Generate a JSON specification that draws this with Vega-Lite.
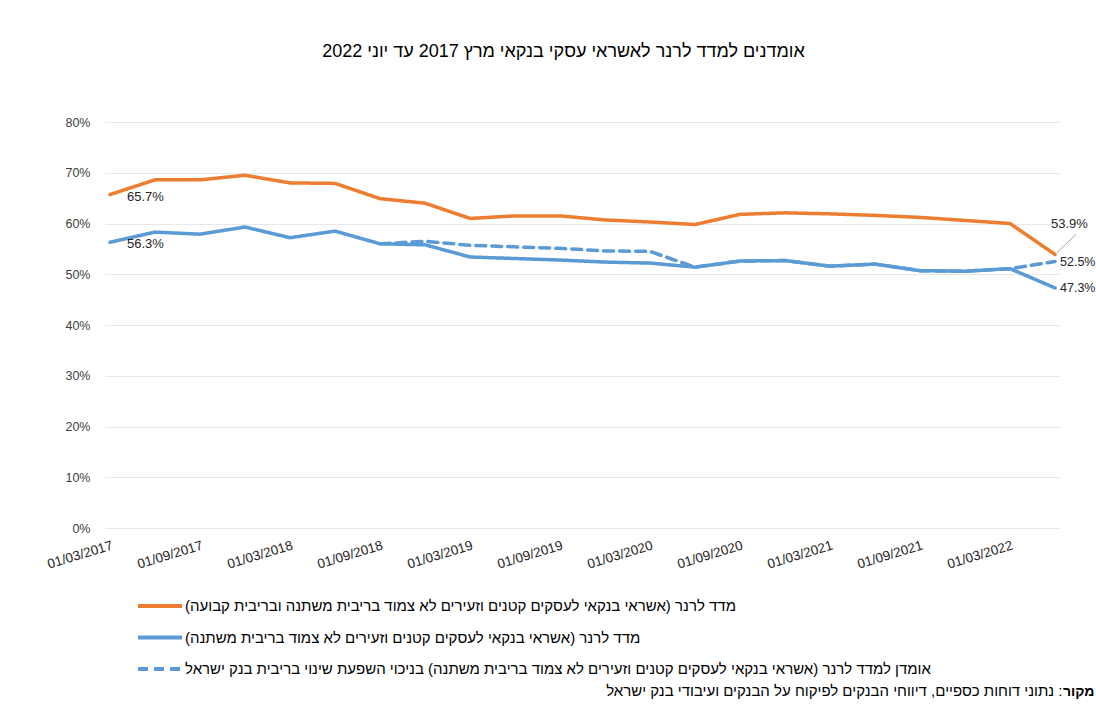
{
  "$schema": "https://vega.github.io/schema/vega-lite/v6.json",
  "width": 955,
  "height": 406,
  "autosize": {"type": "none"},
  "padding": {"left": 105, "top": 122, "right": 36, "bottom": 181},
  "background": "white",
  "title": {
    "text": "אומדנים למדד לרנר לאשראי עסקי בנקאי  מרץ 2017 עד יוני 2022",
    "fontSize": 18,
    "fontWeight": "normal",
    "color": "#000000",
    "anchor": "middle",
    "offset": 55,
    "dx": -19
  },
  "config": {
    "font": "Liberation Sans, DejaVu Sans",
    "view": {"stroke": null}
  },
  "datasets": {
    "main": [
      {"date": "01/03/2017", "series": "orange", "value": 0.657},
      {"date": "01/06/2017", "series": "orange", "value": 0.686},
      {"date": "01/09/2017", "series": "orange", "value": 0.686},
      {"date": "01/12/2017", "series": "orange", "value": 0.695},
      {"date": "01/03/2018", "series": "orange", "value": 0.680},
      {"date": "01/06/2018", "series": "orange", "value": 0.679},
      {"date": "01/09/2018", "series": "orange", "value": 0.649},
      {"date": "01/12/2018", "series": "orange", "value": 0.640},
      {"date": "01/03/2019", "series": "orange", "value": 0.610},
      {"date": "01/06/2019", "series": "orange", "value": 0.615},
      {"date": "01/09/2019", "series": "orange", "value": 0.615},
      {"date": "01/12/2019", "series": "orange", "value": 0.607},
      {"date": "01/03/2020", "series": "orange", "value": 0.603},
      {"date": "01/06/2020", "series": "orange", "value": 0.598},
      {"date": "01/09/2020", "series": "orange", "value": 0.618},
      {"date": "01/12/2020", "series": "orange", "value": 0.621},
      {"date": "01/03/2021", "series": "orange", "value": 0.619},
      {"date": "01/06/2021", "series": "orange", "value": 0.616},
      {"date": "01/09/2021", "series": "orange", "value": 0.612},
      {"date": "01/12/2021", "series": "orange", "value": 0.606},
      {"date": "01/03/2022", "series": "orange", "value": 0.600},
      {"date": "01/06/2022", "series": "orange", "value": 0.539},
      {"date": "01/03/2017", "series": "blue", "value": 0.563},
      {"date": "01/06/2017", "series": "blue", "value": 0.583},
      {"date": "01/09/2017", "series": "blue", "value": 0.579},
      {"date": "01/12/2017", "series": "blue", "value": 0.593},
      {"date": "01/03/2018", "series": "blue", "value": 0.572},
      {"date": "01/06/2018", "series": "blue", "value": 0.585},
      {"date": "01/09/2018", "series": "blue", "value": 0.560},
      {"date": "01/12/2018", "series": "blue", "value": 0.558},
      {"date": "01/03/2019", "series": "blue", "value": 0.534},
      {"date": "01/06/2019", "series": "blue", "value": 0.531},
      {"date": "01/09/2019", "series": "blue", "value": 0.528},
      {"date": "01/12/2019", "series": "blue", "value": 0.524},
      {"date": "01/03/2020", "series": "blue", "value": 0.522},
      {"date": "01/06/2020", "series": "blue", "value": 0.514},
      {"date": "01/09/2020", "series": "blue", "value": 0.526},
      {"date": "01/12/2020", "series": "blue", "value": 0.527},
      {"date": "01/03/2021", "series": "blue", "value": 0.516},
      {"date": "01/06/2021", "series": "blue", "value": 0.520},
      {"date": "01/09/2021", "series": "blue", "value": 0.507},
      {"date": "01/12/2021", "series": "blue", "value": 0.506},
      {"date": "01/03/2022", "series": "blue", "value": 0.511},
      {"date": "01/06/2022", "series": "blue", "value": 0.473},
      {"date": "01/09/2018", "series": "dashed", "value": 0.560},
      {"date": "01/12/2018", "series": "dashed", "value": 0.565},
      {"date": "01/03/2019", "series": "dashed", "value": 0.557},
      {"date": "01/06/2019", "series": "dashed", "value": 0.554},
      {"date": "01/09/2019", "series": "dashed", "value": 0.551},
      {"date": "01/12/2019", "series": "dashed", "value": 0.546},
      {"date": "01/03/2020", "series": "dashed", "value": 0.545},
      {"date": "01/06/2020", "series": "dashed", "value": 0.514},
      {"date": "01/09/2020", "series": "dashed", "value": 0.526},
      {"date": "01/12/2020", "series": "dashed", "value": 0.527},
      {"date": "01/03/2021", "series": "dashed", "value": 0.516},
      {"date": "01/06/2021", "series": "dashed", "value": 0.520},
      {"date": "01/09/2021", "series": "dashed", "value": 0.507},
      {"date": "01/12/2021", "series": "dashed", "value": 0.506},
      {"date": "01/03/2022", "series": "dashed", "value": 0.511},
      {"date": "01/06/2022", "series": "dashed", "value": 0.525}
    ]
  },
  "data": {"name": "main"},
  "encoding": {
    "x": {
      "field": "date",
      "type": "ordinal",
      "sort": null,
      "scale": {"type": "point", "padding": 0.111},
      "axis": {
        "title": "‏: נתוני דוחות כספיים, דיווחי הבנקים לפיקוח על הבנקים ועיבודי בנק ישראל",
        "titleX": 957,
        "titleY": 167,
        "titleAlign": "right",
        "titleBaseline": "alphabetic",
        "titleFontWeight": "normal",
        "titleFontSize": 15,
        "titleColor": "#000000",
        "values": ["01/03/2017", "01/09/2017", "01/03/2018", "01/09/2018", "01/03/2019", "01/09/2019", "01/03/2020", "01/09/2020", "01/03/2021", "01/09/2021", "01/03/2022"],
        "labelAngle": -17,
        "labelAlign": "right",
        "labelBaseline": "top",
        "labelPadding": 10,
        "labelFontSize": 13.5,
        "labelColor": "#262626",
        "ticks": false,
        "domain": false,
        "grid": false
      }
    },
    "y": {
      "field": "value",
      "type": "quantitative",
      "scale": {"domain": [0, 0.8], "nice": false, "zero": true},
      "axis": {
        "title": "מקור",
        "titleAngle": 0,
        "titleX": 989,
        "titleY": 573,
        "titleAlign": "right",
        "titleBaseline": "alphabetic",
        "titleFontWeight": "bold",
        "titleFontSize": 14,
        "titleColor": "#000000",
        "format": ".0%",
        "values": [0, 0.1, 0.2, 0.3, 0.4, 0.5, 0.6, 0.7, 0.8],
        "ticks": false,
        "domain": false,
        "labelPadding": 15,
        "labelFontSize": 12.5,
        "labelColor": "#404040",
        "gridColor": "#e8e8e8",
        "gridWidth": 1
      }
    }
  },
  "layer": [
    {
      "mark": {"type": "line", "strokeWidth": 3.5, "strokeCap": "round", "strokeJoin": "round"},
      "encoding": {
        "color": {
          "field": "series",
          "type": "nominal",
          "scale": {"domain": ["orange", "blue", "dashed"], "range": ["#ED7D31", "#5B9BD5", "#5B9BD5"]},
          "legend": {
            "title": null,
            "orient": "none",
            "legendX": 31,
            "legendY": 471,
            "direction": "vertical",
            "symbolType": "M-2,0H2",
            "symbolSize": 484,
            "symbolOffset": 11,
            "symbolStrokeWidth": 4,
            "labelOffset": 12,
            "rowPadding": 10.5,
            "labelFontSize": 15,
            "labelColor": "#000000",
            "labelLimit": 900,
            "labelExpr": "datum.value == 'orange' ? 'מדד לרנר (אשראי בנקאי לעסקים קטנים וזעירים לא צמוד בריבית משתנה ובריבית קבועה)‏' : datum.value == 'blue' ? 'מדד לרנר (אשראי בנקאי לעסקים קטנים וזעירים  לא צמוד בריבית משתנה)‏' : 'אומדן למדד לרנר (אשראי בנקאי לעסקים קטנים וזעירים לא צמוד בריבית משתנה) בניכוי השפעת שינוי בריבית בנק ישראל'"
          }
        },
        "strokeDash": {
          "field": "series",
          "type": "nominal",
          "scale": {"domain": ["orange", "blue", "dashed"], "range": [[1, 0], [1, 0], [10, 6]]},
          "legend": null
        }
      }
    },
    {
      "transform": [{"filter": "datum.date == '01/03/2017'"}],
      "mark": {"type": "text", "align": "left", "baseline": "middle", "dx": 17, "dy": 2, "fontSize": 13, "color": "#262626"},
      "encoding": {"text": {"field": "value", "type": "quantitative", "format": ".1%"}}
    },
    {
      "transform": [{"filter": "datum.date == '01/06/2022' && datum.series == 'orange'"}],
      "mark": {"type": "text", "align": "left", "baseline": "middle", "dx": -4, "dy": -30, "fontSize": 13, "color": "#262626"},
      "encoding": {"text": {"field": "value", "type": "quantitative", "format": ".1%"}}
    },
    {
      "transform": [{"filter": "datum.date == '01/06/2022' && datum.series != 'orange'"}],
      "mark": {"type": "text", "align": "left", "baseline": "middle", "dx": 5, "dy": 0, "fontSize": 12.5, "color": "#262626"},
      "encoding": {"text": {"field": "value", "type": "quantitative", "format": ".1%"}}
    },
    {
      "transform": [{"filter": "datum.date == '01/06/2022' && datum.series == 'orange'"}],
      "mark": {"type": "rule", "color": "#a6a6a6", "strokeWidth": 1, "xOffset": 2, "yOffset": -2, "x2Offset": 21, "y2Offset": -20},
      "encoding": {
        "x2": {"field": "date"},
        "y2": {"field": "value"}
      }
    }
  ]
}
